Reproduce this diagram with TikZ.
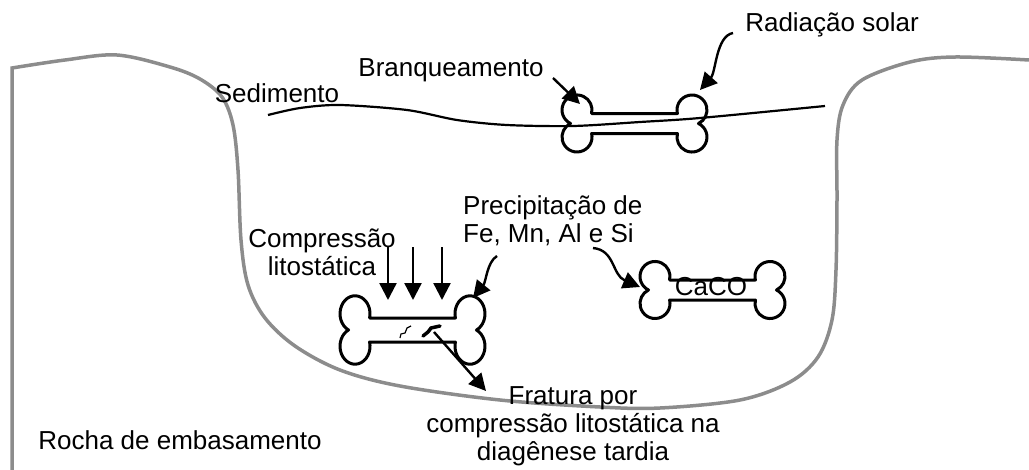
\documentclass[tikz,border=0pt]{standalone}
\usepackage{fontspec}
\setmainfont{Liberation Sans}
\usepackage{tikz}
\usetikzlibrary{arrows.meta}
\definecolor{rockgray}{gray}{0.55}

% one bone: shaft with two round knobs at each end
\tikzset{
  pics/bone/.style={code={
    \draw[bone line] (-42.9,10) -- (42.9,10)
      arc[start angle=193.5,end angle=-64.3,radius=15]
      arc[start angle=64.3,end angle=-193.5,radius=15]
      -- (-42.9,-10)
      arc[start angle=13.5,end angle=-244.3,radius=15]
      arc[start angle=244.3,end angle=-13.5,radius=15]
      -- cycle;
  }}
}

\begin{document}
\begin{tikzpicture}[x=1pt,y=1pt,>={Triangle[length=17pt,width=17pt]},
thick line/.style={line width=2.4pt},
bone line/.style={line width=3pt,line join=round},
rock line/.style={line width=3.5pt,draw=rockgray},
lbl/.style={inner sep=0pt,font=\fontsize{26}{28}\selectfont}]

\useasboundingbox (0,0) rectangle (1029,-469);

% bedrock and basin
\draw[rock line] (12,-470) -- plot[smooth,tension=0.55] coordinates {
  (12,-68) (65,-60) (117,-55) (170,-67) (200,-79) (222,-97) (233,-125)
  (238,-170) (241,-240) (248,-285) (265,-318) (295,-346) (340,-370)
  (400,-386) (500,-400) (600,-407) (660,-408) (740,-400) (790,-382)
  (818,-357) (832,-320) (836,-270) (837,-200) (837,-140) (843,-105)
  (862,-80) (910,-62) (955,-57) (1029,-60)};

% sediment surface
\draw[line width=2.2pt] plot[smooth] coordinates {
  (268,-115) (300,-108) (340,-105) (407,-110) (457,-120) (507,-125)
  (573,-126) (640,-122) (700,-118) (825,-106)};

% labels
\node[lbl] (sed) at (277,-93) {Sedimento};
\node[lbl] (branq) at (451,-70) {Branqueamento};
\node[lbl] (rad) at (832,-25) {Radiação solar};
\node[lbl,align=center] (comp) at (322,-252) {Compressão\\litostática};
\node[lbl,align=left,anchor=west] (precip) at (463,-221) {Precipitação de\\Fe, Mn, Al e Si};
\node[lbl] (rocha) at (180,-440) {Rocha de embasamento};
\node[lbl,align=center] (frat) at (573,-426) {Fratura por\\compressão litostática na\\diagênese tardia};

% bones
\pic (top bone) at (634.5,-123.5) {bone};
\pic[yscale=1.2] (mid bone) at (412.5,-330) {bone};
\pic (right bone) at (712.5,-290) {bone};
\node[lbl] (caco) at (711,-287) {CaCO};

% fracture marks
\draw[line width=1.2pt] (400,-338) -- (401,-334) -- (405,-333) -- (407,-328) -- (411,-326);
\draw[line width=3.5pt,line cap=round] (423,-336) -- (428,-332) -- (431,-328) -- (440,-326);

% arrows
\coordinate (branq start) at (553,-78);
\coordinate (branq end) at (580,-104);
\draw[thick line,->] (branq start) -- (branq end);

\coordinate (rad start) at (733,-33);
\coordinate (rad end) at (700,-90);
\draw[thick line,->] (rad start) .. controls (716,-36) and (716,-72) .. (rad end);

\foreach \x [count=\i] in {388,413,442} {
  \coordinate (press\i) at (\x,-247);
  \coordinate (hit\i) at (\x,-300);
  \draw[thick line,->] (press\i) -- (hit\i);
}

\coordinate (fe start) at (497,-256);
\coordinate (fe end) at (473,-298);
\draw[thick line,->] (fe start) .. controls (487,-262) and (486,-282) .. (fe end);

\coordinate (ca start) at (593,-248);
\coordinate (ca end) at (640,-287);
\draw[thick line,->] (ca start) .. controls (615,-250) and (612,-275) .. (ca end);

\coordinate (crack) at (434,-332);
\coordinate (frat end) at (486,-391);
\draw[thick line,->] (crack) -- (frat end);

\end{tikzpicture}
\end{document}
